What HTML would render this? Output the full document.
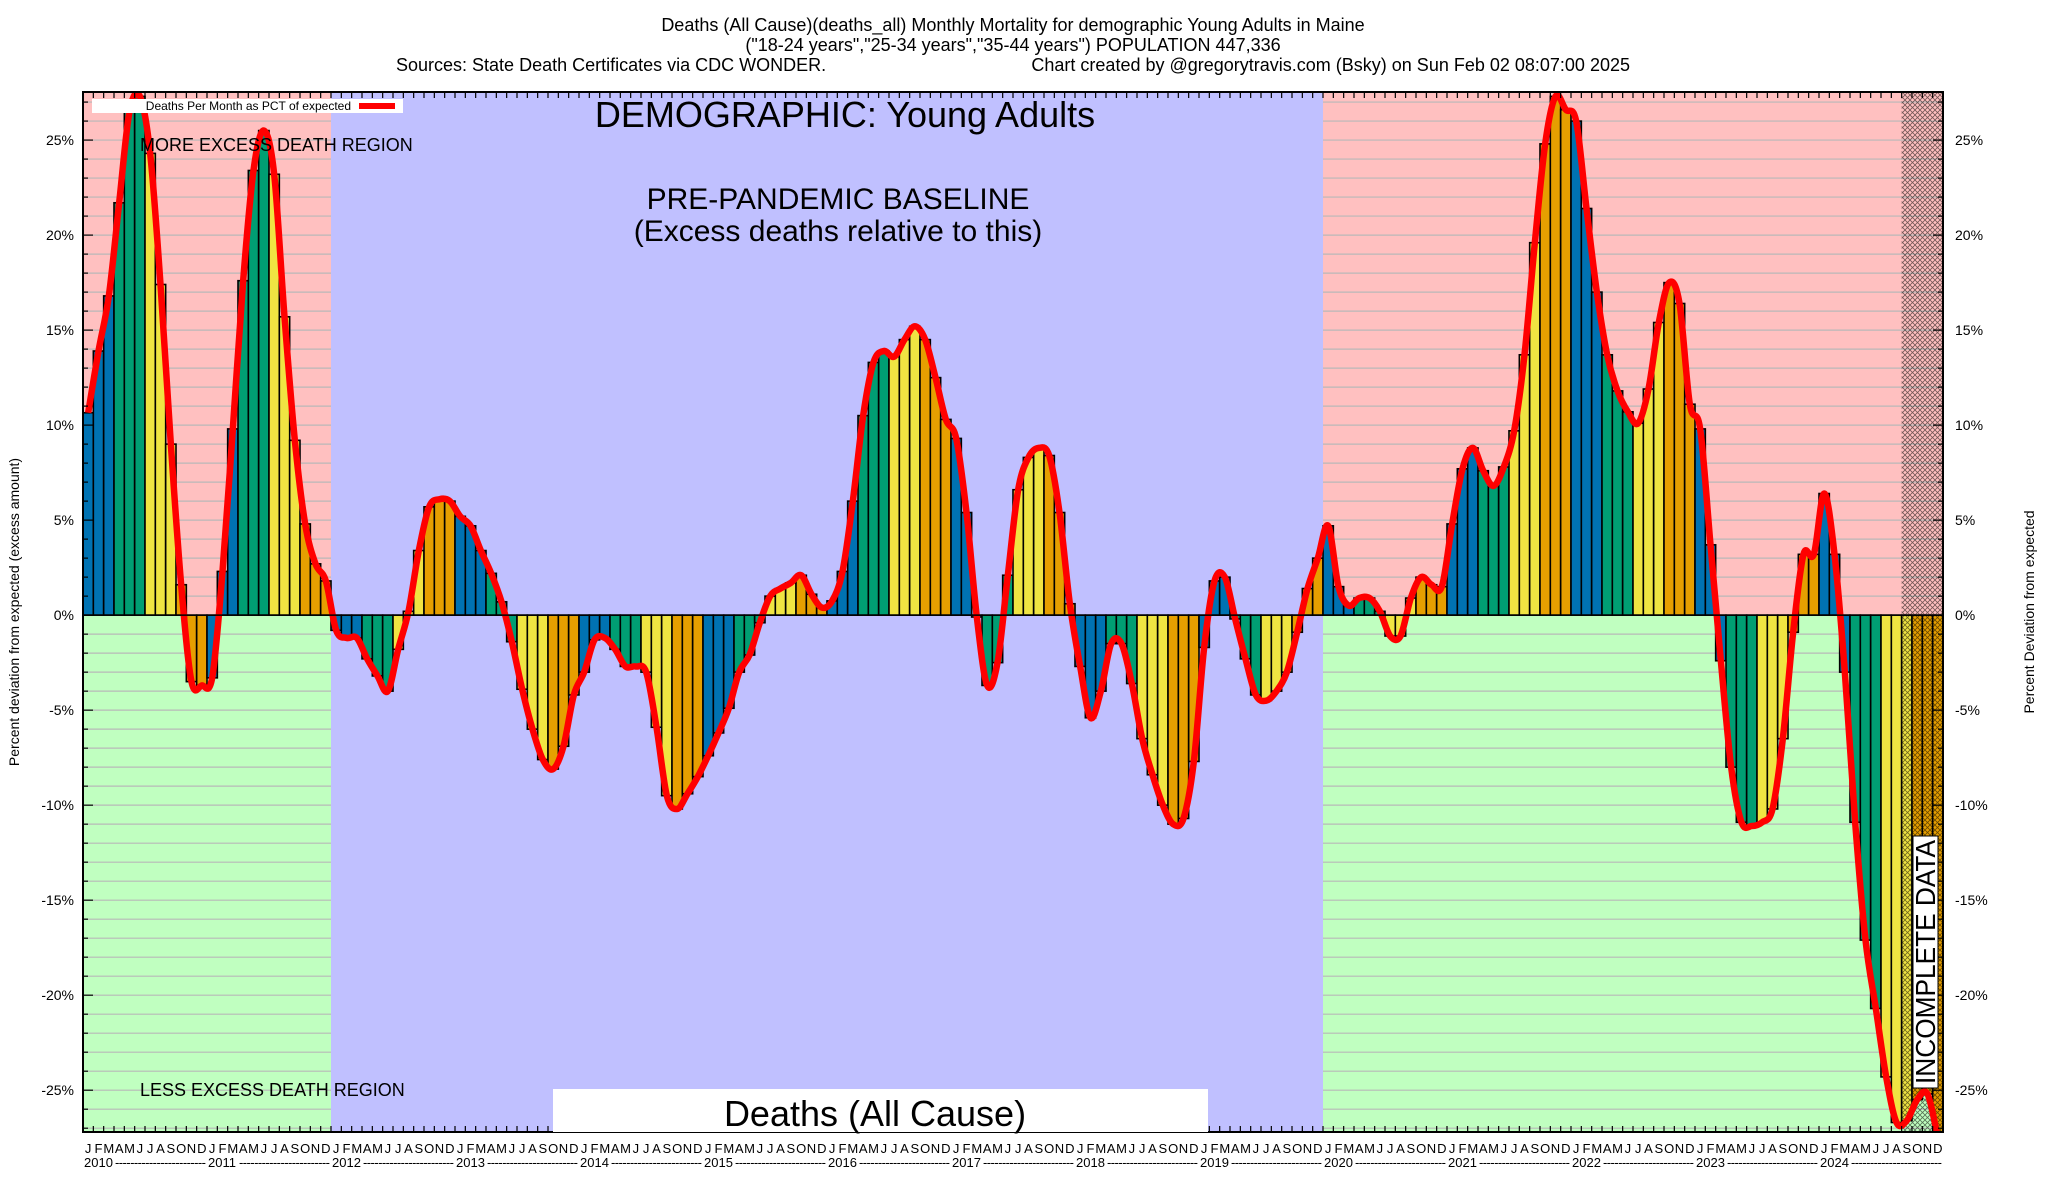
<!DOCTYPE html>
<html><head><meta charset="utf-8"><style>
html,body{margin:0;padding:0;background:#fff;}
svg{display:block;font-family:"Liberation Sans",Arial,sans-serif;}
</style></head><body>
<svg id="chart" width="2048" height="1200" viewBox="0 0 2048 1200" xmlns="http://www.w3.org/2000/svg">
<defs>
<pattern id="hatch" patternUnits="userSpaceOnUse" width="5" height="5">
<path d="M0,0L5,5M5,0L0,5" stroke="#000" stroke-width="0.8"/>
</pattern>
<clipPath id="plotclip"><rect x="83" y="92" width="1860" height="1040"/></clipPath>
</defs>
<g id="titles">
<text x="1013" y="31" font-size="18" text-anchor="middle">Deaths (All Cause)(deaths_all) Monthly Mortality for demographic Young Adults in Maine</text>
<text x="1013" y="51" font-size="18" text-anchor="middle">("18-24 years","25-34 years","35-44 years") POPULATION 447,336</text>
<text x="396" y="71" font-size="18">Sources: State Death Certificates via CDC WONDER.</text>
<text x="1630" y="71" font-size="18" text-anchor="end">Chart created by @gregorytravis.com (Bsky) on Sun Feb 02 08:07:00 2025</text>
</g>
<g id="bg"></g>
<g id="grid"></g>
<g id="bgblue"></g>
<g id="bars" clip-path="url(#plotclip)"></g>
<g id="hatchg"></g>
<g id="line" clip-path="url(#plotclip)"></g>
<g id="axes"></g>
<g id="annot">
<text x="845" y="127" font-size="36" text-anchor="middle">DEMOGRAPHIC: Young Adults</text>
<text x="838" y="209" font-size="30" text-anchor="middle">PRE-PANDEMIC BASELINE</text>
<text x="838" y="241" font-size="30" text-anchor="middle">(Excess deaths relative to this)</text>
<text x="140" y="151" font-size="18">MORE EXCESS DEATH REGION</text>
<text x="140" y="1096" font-size="18">LESS EXCESS DEATH REGION</text>
<rect x="553" y="1089" width="655" height="43" fill="#fff"/>
<text x="875" y="1126" font-size="36" text-anchor="middle">Deaths (All Cause)</text>
<rect x="92" y="99" width="311" height="14" fill="#fff"/>
<text x="351" y="110" font-size="12" text-anchor="end">Deaths Per Month as PCT of expected</text>
<line x1="359" y1="106" x2="395" y2="106" stroke="#f00" stroke-width="6"/>
<rect x="1913" y="836" width="25" height="252" fill="#fff" stroke="#000" stroke-width="1"/>
<text transform="translate(1935,1084) rotate(-90)" font-size="28" textLength="244" lengthAdjust="spacingAndGlyphs">INCOMPLETE DATA</text>
<text transform="translate(19,612) rotate(-90)" font-size="14" text-anchor="middle">Percent deviation from expected (excess amount)</text>
<text transform="translate(2034,612) rotate(-90)" font-size="14" text-anchor="middle">Percent Deviation from expected</text>
</g>
</svg>
<script>
const years = ["2010","2011","2012","2013","2014","2015","2016","2017","2018","2019","2020","2021","2022","2023","2024"];
const monthLetters = ["J","F","M","A","M","J","J","A","S","O","N","D"];
const yTicks = [-25,-20,-15,-10,-5,0,5,10,15,20,25];
const values = [
10.65,13.9,16.8,21.7,26.5,27.3,24.3,17.4,9.0,1.6,-3.5,-3.7,
-3.3,2.3,9.8,17.6,23.4,25.5,23.2,15.7,9.2,4.8,2.7,1.8,
-0.8,-1.2,-1.2,-2.3,-3.2,-4.0,-1.8,0.2,3.4,5.7,6.1,6.0,
5.2,4.7,3.4,2.2,0.7,-1.4,-3.9,-6.0,-7.6,-8.1,-6.9,-4.2,
-3.0,-1.3,-1.2,-1.8,-2.7,-2.7,-3.0,-5.9,-9.5,-10.2,-9.4,-8.5,
-7.4,-6.2,-4.9,-3.0,-2.1,-0.4,1.0,1.4,1.7,2.1,1.1,0.4,
0.75,2.3,6.0,10.5,13.3,13.9,13.6,14.5,15.2,14.5,12.5,10.3,
9.3,5.4,-0.1,-3.7,-2.5,2.1,6.6,8.3,8.8,8.4,5.4,0.6,
-2.7,-5.4,-4.0,-1.5,-1.5,-3.6,-6.5,-8.4,-10.0,-11.0,-10.7,-7.7,
-1.7,1.8,2.0,-0.2,-2.3,-4.2,-4.5,-4.0,-3.0,-0.9,1.4,3.0,
4.7,1.5,0.5,0.9,0.9,0.2,-1.1,-1.1,0.9,2.0,1.6,1.5,
4.8,7.7,8.8,7.6,6.8,7.8,9.7,13.7,19.6,24.8,27.3,26.6,
26.0,21.4,17.0,13.7,11.8,10.7,10.1,11.9,15.4,17.5,16.4,11.1,
9.8,3.7,-2.4,-8.0,-10.9,-11.1,-10.9,-10.2,-6.5,-0.9,3.2,3.2,
6.4,3.2,-3.0,-10.9,-17.1,-20.7,-24.3,-26.7,-26.6,-25.5,-25.2,-27.5
];
const baselineYears = ["2012","2019"];
const incompleteMonths = 4;

const NS = "http://www.w3.org/2000/svg";
const L = 83, R = 1943, T = 92, B = 1132;
const yMin = -27.2, yMax = 27.53;
const nM = years.length * 12;
const slot = (R - L) / nM;
function xS(i){ return L + i * slot; }
function yS(v){ return T + (yMax - v) / (yMax - yMin) * (B - T); }
function mk(tag, attrs, parent){
  const e = document.createElementNS(NS, tag);
  for (const k in attrs) e.setAttribute(k, attrs[k]);
  parent.appendChild(e); return e;
}
const y0 = yS(0);
const bg = document.getElementById('bg');
let r = mk('rect', {x:L, y:T, width:R-L, height:y0-T, fill:'#ffc0c0'}, bg);


r = mk('rect', {x:L, y:y0, width:R-L, height:B-y0, fill:'#c0ffc0'}, bg);



const grid = document.getElementById('grid');
for (let v = Math.ceil(yMin); v <= Math.floor(yMax); v++) {
  if (v === 0) continue;
  const g = mk('line', {x1:L, x2:R, y1:yS(v), y2:yS(v), stroke:'#b8b8b8', 'stroke-width':1.2}, grid);
  
  
}
const bi0 = years.indexOf(baselineYears[0]) * 12, bi1 = (years.indexOf(baselineYears[1]) + 1) * 12;
r = mk('rect', {x:xS(bi0), y:T, width:xS(bi1)-xS(bi0), height:B-T, fill:'#c0c0ff'}, document.getElementById('bgblue'));



const colors = ['#0072b2','#009e73','#f0e442','#e69f00'];
const barsG = document.getElementById('bars');
values.forEach((v, i) => {
  const yv = yS(v);
  const b = mk('rect', {x:xS(i), y:Math.min(yv, y0), width:slot, height:Math.abs(yv - y0),
    fill:colors[Math.floor((i % 12) / 3)], stroke:'#000', 'stroke-width':1.6}, barsG);
  
  
});
const hx = xS(nM - incompleteMonths);
r = mk('rect', {x:hx, y:T, width:R-hx, height:B-T, fill:'url(#hatch)', opacity:0.55}, document.getElementById('hatchg'));



const pts = values.map((v, i) => [xS(i) + slot/2, yS(v)]);
let d = 'M' + pts[0][0] + ',' + pts[0][1];
for (let i = 0; i < pts.length - 1; i++) {
  const p0 = pts[Math.max(0, i-1)], p1 = pts[i], p2 = pts[i+1], p3 = pts[Math.min(pts.length-1, i+2)];
  const c1x = p1[0] + (p2[0]-p0[0])/6, c1y = p1[1] + (p2[1]-p0[1])/6;
  const c2x = p2[0] - (p3[0]-p1[0])/6, c2y = p2[1] - (p3[1]-p1[1])/6;
  d += 'C' + c1x + ',' + c1y + ' ' + c2x + ',' + c2y + ' ' + p2[0] + ',' + p2[1];
}
const ln = mk('path', {d:d, fill:'none', stroke:'#f00', 'stroke-width':6.5, 'stroke-linejoin':'round'}, document.getElementById('line'));



const ax = document.getElementById('axes');
const fr = mk('rect', {x:L, y:T, width:R-L, height:B-T, fill:'none', stroke:'#000', 'stroke-width':2}, ax);


const zl = mk('line', {x1:L, x2:R, y1:y0, y2:y0, stroke:'#000', 'stroke-width':1.5}, ax);


for (let v = Math.ceil(yMin); v <= Math.floor(yMax); v++) {
  const len = v % 5 === 0 ? 10 : 5;
  mk('line', {x1:L, x2:L+len, y1:yS(v), y2:yS(v), stroke:'#000', 'stroke-width':1.2}, ax);
  mk('line', {x1:R, x2:R-len, y1:yS(v), y2:yS(v), stroke:'#000', 'stroke-width':1.2}, ax);
}
yTicks.forEach(v => {
  const t1 = mk('text', {x:74, y:yS(v)+5, 'font-size':14, 'text-anchor':'end'}, ax);
  t1.textContent = v + '%';
  
  
  const t2 = mk('text', {x:1955, y:yS(v)+5, 'font-size':14}, ax);
  t2.textContent = v + '%';
  
  
});
for (let i = 0; i < nM; i++) {
  const x = xS(i);
  mk('line', {x1:x, x2:x, y1:B, y2:B-6, stroke:'#000', 'stroke-width':1.2}, ax);
  mk('line', {x1:x, x2:x, y1:T, y2:T+6, stroke:'#000', 'stroke-width':1.2}, ax);
  const t = mk('text', {x:x + slot/2, y:1153, 'font-size':13, 'text-anchor':'middle'}, ax);
  t.textContent = monthLetters[i % 12];
  
  
}
years.forEach((yr, k) => {
  const x = xS(k*12);
  const t = mk('text', {x:x + 1, y:1167, 'font-size':13}, ax);
  t.textContent = yr;
  
  
  const ds = mk('text', {x:x + 32, y:1167, 'font-size':13, textLength:(12*slot - 33), lengthAdjust:'spacing'}, ax);
  ds.textContent = '------------------------';
  
  
});
</script>
</body></html>
